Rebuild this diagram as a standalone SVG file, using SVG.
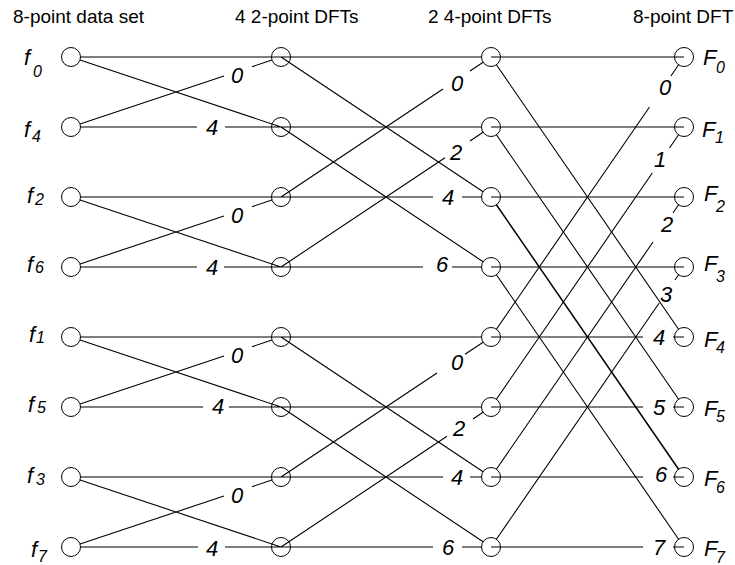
<svg xmlns="http://www.w3.org/2000/svg" width="735" height="565" viewBox="0 0 735 565">
<style>
  .bg{fill:#fff}
  .nd{fill:none;stroke:#000;stroke-width:1}
  .ln{fill:none;stroke:#000;stroke-width:1.1}
  .thk{stroke-width:1.5}
  .hd{font-family:"Liberation Sans",Arial,sans-serif;font-size:19px;fill:#000}
  .lb{font-family:"Liberation Sans",Arial,sans-serif;font-size:22px;font-style:italic;fill:#000;text-anchor:middle}
  .nm{font-family:"Liberation Sans",Arial,sans-serif;font-size:22px;font-style:italic;fill:#000}
  .sb{font-size:16px}
</style>
<rect class="bg" x="0" y="0" width="735" height="565"/>
<g id="headers">
  <text class="hd" x="13" y="23">8-point data set</text>
  <text class="hd" x="235" y="23">4 2-point DFTs</text>
  <text class="hd" x="428" y="23">2 4-point DFTs</text>
  <text class="hd" x="633" y="23">8-point DFT</text>
</g>
<g id="connectors" class="ln">
  <!-- stage 1 -->
  <path d="M80.5,57 H281 M80,60 L281,127 M80,124 L224,76 M252,66.67 L272,60 M80.5,127 H197 M225,127 H281"/>
  <path d="M80.5,197 H281 M80,200 L281,267 M80,264 L224,216 M252,206.67 L272,200 M80.5,267 H197 M224,267 H281"/>
  <path d="M80.5,337 H281 M80,340 L281,407 M80,404 L224,356 M252,346.67 L272,340 M80.5,407 H203 M229,407 H281"/>
  <path d="M80.5,477 H281 M80,480 L281,547 M80,544 L224,496 M252,486.67 L272,480 M80.5,547 H198 M225,547 H281"/>
  <!-- stage 2 -->
  <path d="M281,57 H481.5 M281,57 L483.1,191.7 M281,197 L443,89 M470,71 L483.1,62.3 M281,197 H433 M462,197 H481.5"/>
  <path d="M281,127 H481.5 M281,127 L483.1,261.7 M281,267 L445,157.67 M470,141 L483.1,132.3 M281,267 H423 M452,267 H481.5"/>
  <path d="M281,337 H481.5 M281,337 L483.1,471.7 M281,477 L437,373 M465,354.33 L483.1,342.3 M281,477 H443 M470,477 H481.5"/>
  <path d="M281,407 H481.5 M281,407 L483.1,541.7 M281,547 L447,436.33 M473,419 L483.1,412.3 M281,547 H433 M462,547 H481.5"/>
  <!-- stage 3 -->
  <path d="M491,57 H684 M496.4,64.8 L678.6,329.2 M496.4,329.2 L649.5,107 M670.9,76 L678.6,64.8 M491,337 H643 M673,337 H684"/>
  <path d="M491,127 H684 M496.4,134.8 L678.6,399.2 M496.4,399.2 L652.3,173 M669.5,148 L678.6,134.8 M491,407 H643 M673,407 H684"/>
  <path d="M491,197 H684 M496.4,469.2 L653,242 M673,213 L678.6,204.8 M491,477 H643 M673,477 H684"/>
  <path class="thk" d="M496.4,204.8 L678.6,469.2"/>
  <path d="M491,267 H684 M496.4,274.8 L678.6,539.2 M496.4,539.2 L659.2,303 M675,280 L678.6,274.8 M491,547 H643 M673,547 H684"/>
</g>
<g id="weights">
  <text class="lb" x="237" y="83">0</text><text class="lb" x="212" y="135">4</text>
  <text class="lb" x="237" y="223">0</text><text class="lb" x="212" y="275">4</text>
  <text class="lb" x="237" y="363">0</text><text class="lb" x="218" y="414">4</text>
  <text class="lb" x="237" y="503">0</text><text class="lb" x="212" y="556">4</text>
  <text class="lb" x="457" y="91">0</text><text class="lb" x="448" y="205">4</text>
  <text class="lb" x="456" y="160">2</text><text class="lb" x="442" y="272">6</text>
  <text class="lb" x="457" y="370">0</text><text class="lb" x="457" y="485">4</text>
  <text class="lb" x="459" y="436">2</text><text class="lb" x="448" y="555">6</text>
  <text class="lb" x="665" y="95">0</text><text class="lb" x="660" y="167">1</text>
  <text class="lb" x="667" y="232">2</text><text class="lb" x="666" y="302">3</text>
  <text class="lb" x="659" y="345">4</text><text class="lb" x="659" y="415">5</text>
  <text class="lb" x="661" y="482">6</text><text class="lb" x="659" y="555">7</text>
</g>
<!-- column 1: inputs -->
<g id="in-f0"><circle class="nd" cx="71" cy="57" r="9.5"/><text class="nm" x="24" y="65">f<tspan class="sb" x="33" y="77">0</tspan></text></g>
<g id="in-f4"><circle class="nd" cx="71" cy="127" r="9.5"/><text class="nm" x="24" y="137">f<tspan class="sb" x="32" y="142">4</tspan></text></g>
<g id="in-f2"><circle class="nd" cx="71" cy="197" r="9.5"/><text class="nm" x="27" y="203">f<tspan class="sb" x="35" y="205">2</tspan></text></g>
<g id="in-f6"><circle class="nd" cx="71" cy="267" r="9.5"/><text class="nm" x="27" y="272">f<tspan class="sb" x="35" y="273">6</tspan></text></g>
<g id="in-f1"><circle class="nd" cx="71" cy="337" r="9.5"/><text class="nm" x="29" y="342">f<tspan class="sb" x="36" y="343">1</tspan></text></g>
<g id="in-f5"><circle class="nd" cx="71" cy="407" r="9.5"/><text class="nm" x="28" y="412">f<tspan class="sb" x="37" y="413">5</tspan></text></g>
<g id="in-f3"><circle class="nd" cx="71" cy="477" r="9.5"/><text class="nm" x="27" y="483">f<tspan class="sb" x="36" y="485">3</tspan></text></g>
<g id="in-f7"><circle class="nd" cx="71" cy="547" r="9.5"/><text class="nm" x="31" y="557">f<tspan class="sb" x="38" y="562">7</tspan></text></g>
<!-- column 2 -->
<g id="s1-0"><circle class="nd" cx="281" cy="57" r="9.5"/></g>
<g id="s1-1"><circle class="nd" cx="281" cy="127" r="9.5"/></g>
<g id="s1-2"><circle class="nd" cx="281" cy="197" r="9.5"/></g>
<g id="s1-3"><circle class="nd" cx="281" cy="267" r="9.5"/></g>
<g id="s1-4"><circle class="nd" cx="281" cy="337" r="9.5"/></g>
<g id="s1-5"><circle class="nd" cx="281" cy="407" r="9.5"/></g>
<g id="s1-6"><circle class="nd" cx="281" cy="477" r="9.5"/></g>
<g id="s1-7"><circle class="nd" cx="281" cy="547" r="9.5"/></g>
<!-- column 3 -->
<g id="s2-0"><circle class="nd" cx="491" cy="57" r="9.5"/></g>
<g id="s2-1"><circle class="nd" cx="491" cy="127" r="9.5"/></g>
<g id="s2-2"><circle class="nd" cx="491" cy="197" r="9.5"/></g>
<g id="s2-3"><circle class="nd" cx="491" cy="267" r="9.5"/></g>
<g id="s2-4"><circle class="nd" cx="491" cy="337" r="9.5"/></g>
<g id="s2-5"><circle class="nd" cx="491" cy="407" r="9.5"/></g>
<g id="s2-6"><circle class="nd" cx="491" cy="477" r="9.5"/></g>
<g id="s2-7"><circle class="nd" cx="491" cy="547" r="9.5"/></g>
<!-- column 4: outputs -->
<g id="out-F0"><circle class="nd" cx="684" cy="57" r="9.5"/><text class="nm" x="703" y="65">F<tspan class="sb" x="716" y="73">0</tspan></text></g>
<g id="out-F1"><circle class="nd" cx="684" cy="127" r="9.5"/><text class="nm" x="702" y="137">F<tspan class="sb" x="715" y="143">1</tspan></text></g>
<g id="out-F2"><circle class="nd" cx="684" cy="197" r="9.5"/><text class="nm" x="704" y="201">F<tspan class="sb" x="716" y="212">2</tspan></text></g>
<g id="out-F3"><circle class="nd" cx="684" cy="267" r="9.5"/><text class="nm" x="704" y="271">F<tspan class="sb" x="716" y="282">3</tspan></text></g>
<g id="out-F4"><circle class="nd" cx="684" cy="337" r="9.5"/><text class="nm" x="704" y="347">F<tspan class="sb" x="716" y="353">4</tspan></text></g>
<g id="out-F5"><circle class="nd" cx="684" cy="407" r="9.5"/><text class="nm" x="704" y="416">F<tspan class="sb" x="716" y="422">5</tspan></text></g>
<g id="out-F6"><circle class="nd" cx="684" cy="477" r="9.5"/><text class="nm" x="704" y="486">F<tspan class="sb" x="716" y="493">6</tspan></text></g>
<g id="out-F7"><circle class="nd" cx="684" cy="547" r="9.5"/><text class="nm" x="704" y="556">F<tspan class="sb" x="716" y="563">7</tspan></text></g>
</svg>
